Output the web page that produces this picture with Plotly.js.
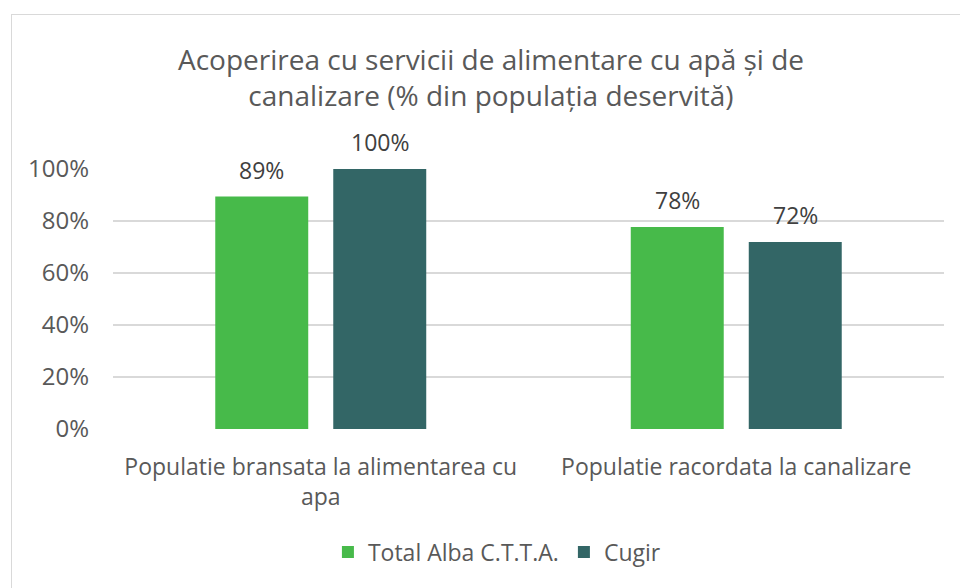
<!DOCTYPE html>
<html>
<head>
<meta charset="utf-8">
<script src="https://cdn.plot.ly/plotly-3.0.1.min.js"></script>
<style>
html,body{margin:0;padding:0;background:#fff;}
#chart{position:absolute;left:0;top:0;width:960px;height:588px;}
#frame{position:absolute;left:11px;top:14px;width:960px;height:600px;border:1px solid #d9d9d9;pointer-events:none;}
</style>
</head>
<body>
<div id="chart"></div>
<div id="frame"></div>
<script>
const categories = ["Populatie bransata la alimentarea cu apa", "Populatie racordata la canalizare"];
const tickLabels = ["Populatie bransata la alimentarea cu<br>apa", "Populatie racordata la canalizare"];
const seriesNames = ["Total Alba C.T.T.A.", "Cugir"];
const totalAlba = [89.4, 77.7];
const cugir = [100, 71.9];
const yTickVals = [0, 20, 40, 60, 80, 100];
const yTickText = ["0%", "20%", "40%", "60%", "80%", "100%"];

const FONT = "Open Sans, sans-serif";
const seriesColors = ["#47BA4A", "#336666"];
const seriesData = [totalAlba, cugir];
const groupOffset = 59; // px offset of each bar from category centre

const traces = seriesData.map((vals, i) => ({
  type: "bar", name: seriesNames[i], x: categories, y: vals,
  marker: {color: seriesColors[i]},
  hoverinfo: "none"
}));

const annotations = [];
seriesData.forEach((vals, i) => {
  vals.forEach((v, j) => {
    annotations.push({
      x: categories[j], y: v, xref: "x", yref: "y",
      xshift: (i === 0 ? -1 : 1) * groupOffset, yshift: 27,
      yanchor: "middle", xanchor: "center",
      text: Math.round(v) + "%", showarrow: false,
      font: {family: FONT, size: 23, color: "#404040"}
    });
  });
});

const layout = {
  width: 960, height: 588,
  margin: {l: 113, r: 16, t: 169, b: 159},
  paper_bgcolor: "#ffffff", plot_bgcolor: "#ffffff",
  font: {family: FONT, color: "#595959"},
  title: {
    text: "Acoperirea cu servicii de alimentare cu apă și de<br>canalizare (% din populația deservită)",
    font: {family: FONT, size: 28, color: "#595959"},
    x: 491/960, xref: "container", xanchor: "center",
    y: 1 - 70/588, yref: "container", yanchor: "middle"
  },
  barmode: "group",
  bargap: 0.432,
  bargroupgap: 0.212,
  xaxis: {
    type: "category",
    tickvals: categories, ticktext: tickLabels,
    tickfont: {family: FONT, size: 23, color: "#595959"},
    showgrid: false, zeroline: false, showline: false, ticks: "",
    ticklabelstandoff: 22
  },
  yaxis: {
    range: [0, 100], tickvals: yTickVals, ticktext: yTickText,
    tickfont: {family: FONT, size: 24, color: "#595959"},
    showgrid: true, gridcolor: "#d9d9d9", gridwidth: 1.5,
    zeroline: false, showline: false, ticks: "", ticklabelstandoff: 23
  },
  annotations: annotations,
  showlegend: true,
  legend: {
    orientation: "h", x: 0.462, xanchor: "center",
    y: -0.473, yanchor: "middle",
    font: {family: FONT, size: 23, color: "#595959"},
    traceorder: "normal"
  }
};

Plotly.newPlot("chart", traces, layout, {staticPlot: true});
</script>
</body>
</html>
